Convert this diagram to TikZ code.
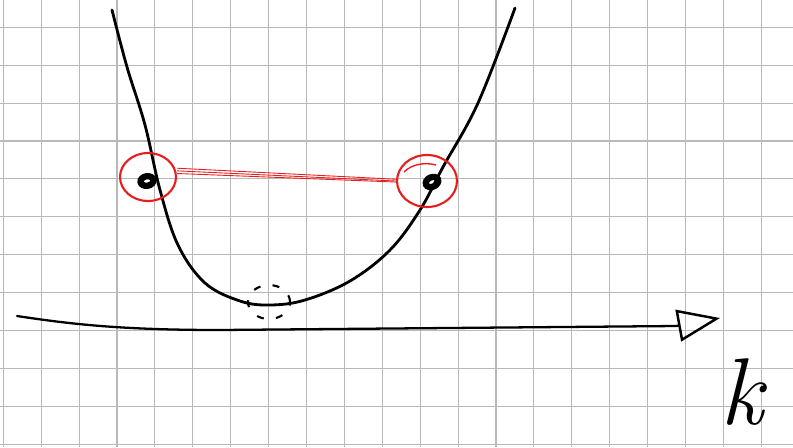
\documentclass[tikz,border=0pt]{standalone}
\usepackage{tikz}
\usetikzlibrary{arrows.meta,shapes.geometric}
\definecolor{figgrid}{RGB}{185,185,185}
\definecolor{figred}{RGB}{230,30,30}
\tikzset{
  gridline/.style={draw=figgrid, line width=0.6pt},
  curveline/.style={draw=black, line width=1.6pt, line cap=round},
  ringmark/.style={draw=figred, line width=1.2pt, ellipse, inner sep=0pt},
  pairline/.style={draw=figred, line width=0.5pt},
  dotmark/.style={draw=black, line width=3.6pt, ellipse, inner sep=0pt, minimum width=0.26cm, minimum height=0.19cm},
  minmark/.style={draw=black, line width=1.2pt, ellipse, inner sep=0pt, dash pattern=on 4pt off 7pt},
  axisline/.style={draw=black, line width=1.3pt, line cap=round, -{Triangle[open, length=8.5mm, width=6.4mm, line width=1.4pt]}},
  figlabel/.style={font=\fontsize{54}{56}\selectfont\itshape, inner sep=0pt}
}

\begin{document}
\begin{tikzpicture}[x=0.02cm,y=-0.02cm]
  \useasboundingbox (0,0) rectangle (793,447);
  \fill[white] (0,0) rectangle (793,447);

  % squared paper
  \foreach \i in {0,...,20}
    \draw[gridline] ({3.3+37.9*\i},0) -- ({3.3+37.9*\i},447);
  \foreach \j in {0,...,11}
    \draw[gridline] (0,{27.3+37.9*\j}) -- (793,{27.3+37.9*\j});

  % the band
  \draw[curveline] plot[smooth, tension=0.6] coordinates {
    (112,10) (127,67) (145,125) (160,190) (178,245) (205,283) (240,301)
    (270,305) (305,300) (350,281) (390,250) (420,210) (443,167) (478,103) (515,8)};

  % marked pair
  \node[ringmark, minimum width=1.12cm, minimum height=0.96cm] (ringL) at (148,177) {};
  \node[ringmark, minimum width=1.2cm, minimum height=1.04cm] (ringR) at (427,181) {};
  \node[dotmark, rotate=10] (dotL) at (147,181) {};
  \node[dotmark, rotate=25] (dotR) at (432,182) {};
  \draw[figred, line width=0.8pt] (404,172) .. controls (412,164) and (425,162) .. (436,165);

  \draw[pairline] ([yshift=5pt]ringL.east) -- ([yshift=1pt]ringR.west);
  \draw[pairline] ([yshift=3.5pt]ringL.east) -- ([yshift=0pt]ringR.west);
  \draw[pairline] ([yshift=2pt]ringL.east) -- ([yshift=-0.6pt]ringR.west);

  % minimum
  \node[minmark, minimum width=0.84cm, minimum height=0.68cm] (minring) at (269,302) {};

  % axis
  \coordinate (axstart) at (17,316);
  \coordinate (axend) at (720,318);
  \draw[axisline] (axstart) .. controls (70,324) and (120,330) .. (220,330) -- (676,326) -- (axend);
  \node[figlabel] (klabel) at (742,392) {k};
\end{tikzpicture}
\end{document}
